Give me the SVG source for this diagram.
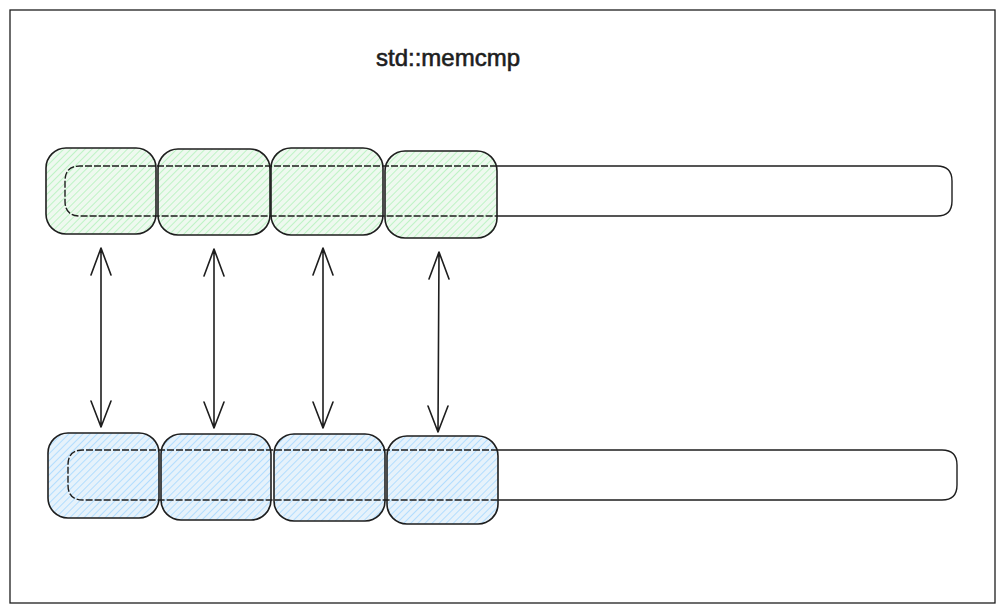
<svg xmlns="http://www.w3.org/2000/svg" width="1004" height="613" viewBox="0 0 1004 613">
<style>
.frame{fill:none;stroke:#1e1e1e;stroke-width:1.3}
.bar{fill:none;stroke:#1e1e1e;stroke-width:1.4}
.dash{fill:none;stroke:#1e1e1e;stroke-width:1.4;stroke-dasharray:7 2}
.g{fill:url(#hg);stroke:#1e1e1e;stroke-width:1.6}
.b{fill:url(#hb);stroke:#1e1e1e;stroke-width:1.6}
.arr{fill:none;stroke:#1e1e1e;stroke-width:1.6;stroke-linecap:round;stroke-linejoin:round}
.title{font-family:"Liberation Sans",sans-serif;font-size:24px;fill:#1e1e1e;stroke:#1e1e1e;stroke-width:0.6}
</style>
<defs>
<pattern id="hg" width="5" height="5" patternUnits="userSpaceOnUse" patternTransform="rotate(45)">
<rect width="5" height="5" fill="#eef9ef"/>
<line x1="0" y1="0" x2="0" y2="5" stroke="#b2f2bb" stroke-width="1.6"/>
</pattern>
<pattern id="hb" width="5" height="5" patternUnits="userSpaceOnUse" patternTransform="rotate(45)">
<rect width="5" height="5" fill="#e6f2fb"/>
<line x1="0" y1="0" x2="0" y2="5" stroke="#a5d8ff" stroke-width="1.6"/>
</pattern>
</defs>
<rect width="1004" height="613" fill="#ffffff"/>
<rect class="frame" x="10" y="10" width="985" height="593"/>
<g id="title"><text class="title" x="448" y="66" text-anchor="middle">std::memcmp</text></g>

<g id="top-row">
<g id="top-bar">
<path class="bar" d="M497 166 H937 Q952 166 952 181 V201 Q952 216 937 216 H497"/>
</g>
<g id="top-b1"><rect class="g" x="46" y="148" width="110" height="86" rx="20"/></g>
<g id="top-b2"><rect class="g" x="158" y="149" width="112" height="86" rx="20"/></g>
<g id="top-b3"><rect class="g" x="271" y="148" width="112" height="87" rx="20"/></g>
<g id="top-b4"><rect class="g" x="385" y="151" width="112" height="87" rx="20"/></g>
<path class="dash" d="M497 166 H80 Q65 166 65 181 V201 Q65 216 80 216 H497"/>
</g>

<g id="bottom-row">
<g id="bottom-bar">
<path class="bar" d="M498 450 H942 Q957 450 957 465 V485 Q957 500 942 500 H498"/>
</g>
<g id="bot-b1"><rect class="b" x="48" y="433" width="111" height="85" rx="20"/></g>
<g id="bot-b2"><rect class="b" x="161" y="434" width="110" height="86" rx="20"/></g>
<g id="bot-b3"><rect class="b" x="274" y="434" width="111" height="87" rx="20"/></g>
<g id="bot-b4"><rect class="b" x="387" y="436" width="111" height="88" rx="20"/></g>
<path class="dash" d="M498 450 H83 Q68 450 68 465 V485 Q68 500 83 500 H498"/>
</g>

<g id="connectors">
<path class="arr" d="M101 248 V427 M91 275 L101 248 L111 275 M91 401 L101 427 L111 401"/>
<path class="arr" d="M214 249 V428 M204 276 L214 249 L224 276 M204 402 L214 428 L224 402"/>
<path class="arr" d="M323 248 V428 M313 275 L323 248 L333 275 M313 402 L323 428 L333 402"/>
<path class="arr" d="M439 252 L438 432 M429 279 L439 252 L449 279 M428 406 L438 432 L448 406"/>
</g>
</svg>
